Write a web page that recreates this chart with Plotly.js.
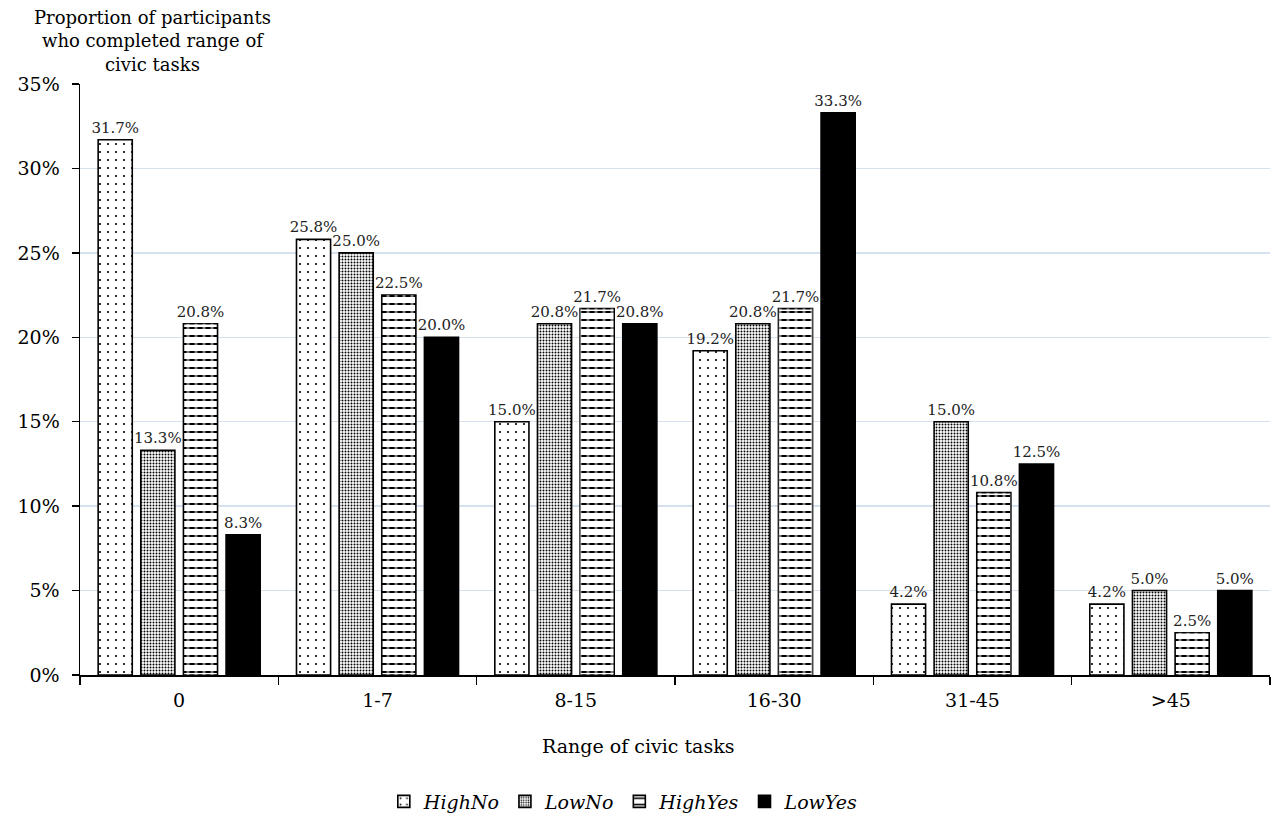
<!DOCTYPE html>
<html>
<head>
<meta charset="utf-8">
<script src="https://cdn.plot.ly/plotly-3.0.1.min.js"></script>
<style>html,body{margin:0;padding:0;background:#fff;}#chart{width:1271px;height:821px;}</style>
</head>
<body>
<div id="chart"></div>
<script>
var categories = ['0', '1-7', '8-15', '16-30', '31-45', '>45'];
var seriesNames = ['HighNo', 'LowNo', 'HighYes', 'LowYes'];
var highNo  = [31.7, 25.8, 15.0, 19.2, 4.2, 4.2];
var lowNo   = [13.3, 25.0, 20.8, 20.8, 15.0, 5.0];
var highYes = [20.8, 22.5, 21.7, 21.7, 10.8, 2.5];
var lowYes  = [8.3, 20.0, 20.8, 33.3, 12.5, 5.0];
var yTickVals = [0, 5, 10, 15, 20, 25, 30, 35];
var yTickText = ['0%', '5%', '10%', '15%', '20%', '25%', '30%', '35%'];

var FONT = 'DejaVu Serif, Liberation Serif, serif';
var patterns = [
  {shape: '.', size: 8, solidity: 0.06, fgcolor: '#000', bgcolor: '#fff', fillmode: 'replace'},
  {shape: '.', size: 3, solidity: 0.33, fgcolor: '#000', bgcolor: '#fff', fillmode: 'replace'},
  {shape: '-', size: 8, solidity: 0.25, fgcolor: '#000', bgcolor: '#fff', fillmode: 'replace'},
  null
];
var allValues = [highNo, lowNo, highYes, lowYes];
var groups = ['g1', 'g2', 'g3', 'g4'];

var traces = [];
allValues.forEach(function (vals, i) {
  var marker = {
    color: i === 3 ? '#000' : '#fff',
    line: {color: '#000', width: 1.6}
  };
  if (patterns[i]) marker.pattern = patterns[i];
  traces.push({
    type: 'bar',
    name: seriesNames[i],
    offsetgroup: groups[i],
    x: categories,
    y: vals,
    marker: marker,
    text: vals.map(function (v) { return v.toFixed(1) + '%'; }),
    textposition: 'outside',
    constraintext: 'none',
    cliponaxis: false,
    textfont: {family: FONT, size: 15, color: '#222'},
    hoverinfo: 'x+y+name'
  });
  if (i === 2) {
    // white vertical breaks over the horizontal lines -> dashed look
    traces.push({
      type: 'bar',
      name: seriesNames[i] + ' dashes',
      offsetgroup: groups[i],
      x: categories,
      y: vals,
      showlegend: false,
      hoverinfo: 'skip',
      marker: {
        color: 'rgba(0,0,0,0)',
        line: {width: 0},
        pattern: {shape: '|', size: 8, solidity: 0.38, fgcolor: '#fff', bgcolor: 'rgba(0,0,0,0)', fillmode: 'overlay'}
      }
    });
  }
});

var layout = {
  width: 1271,
  height: 821,
  paper_bgcolor: '#fff',
  plot_bgcolor: '#fff',
  margin: {l: 80, r: 1, t: 84, b: 144},
  barmode: 'group',
  bargap: 0.14,
  bargroupgap: 0.2,
  font: {family: FONT, size: 19, color: '#000'},
  xaxis: {
    type: 'category',
    showline: true,
    linecolor: '#000',
    linewidth: 1.5,
    ticks: 'outside',
    tickson: 'boundaries',
    ticklen: 8,
    tickwidth: 1.5,
    tickcolor: '#000',
    ticklabelstandoff: 8,
    tickfont: {family: FONT, size: 19, color: '#000'},
    showgrid: false,
    zeroline: false
  },
  yaxis: {
    range: [0, 35],
    tickvals: yTickVals,
    ticktext: yTickText,
    showline: true,
    linecolor: '#000',
    linewidth: 1.5,
    ticks: 'outside',
    ticklen: 7,
    tickwidth: 1.5,
    tickcolor: '#000',
    ticklabelstandoff: 8,
    tickfont: {family: FONT, size: 19, color: '#000'},
    showgrid: true,
    gridcolor: '#d6e1ef',
    gridwidth: 1.5,
    zeroline: false
  },
  legend: {
    orientation: 'h',
    x: 0.457,
    xanchor: 'center',
    y: (677 - 804) / 593,
    yanchor: 'middle',
    font: {family: FONT, size: 19, color: '#000', style: 'italic'},
    itemwidth: 30,
    tracegroupgap: 0
  },
  annotations: [{
    text: 'Proportion of participants<br>who completed range of<br>civic tasks',
    xref: 'paper', yref: 'paper',
    x: (152 - 80) / 1190, y: 1 + (84 - 5) / 593,
    xanchor: 'center', yanchor: 'top',
    showarrow: false,
    align: 'center',
    font: {family: FONT, size: 18, color: '#000'}
  }, {
    text: 'Range of civic tasks',
    xref: 'paper', yref: 'paper',
    x: (638 - 80) / 1190, y: (677 - 748) / 593,
    xanchor: 'center', yanchor: 'middle',
    showarrow: false,
    font: {family: FONT, size: 19, color: '#000'}
  }],
  showlegend: true
};

Plotly.newPlot('chart', traces, layout, {displayModeBar: false, staticPlot: true});
</script>
</body>
</html>
